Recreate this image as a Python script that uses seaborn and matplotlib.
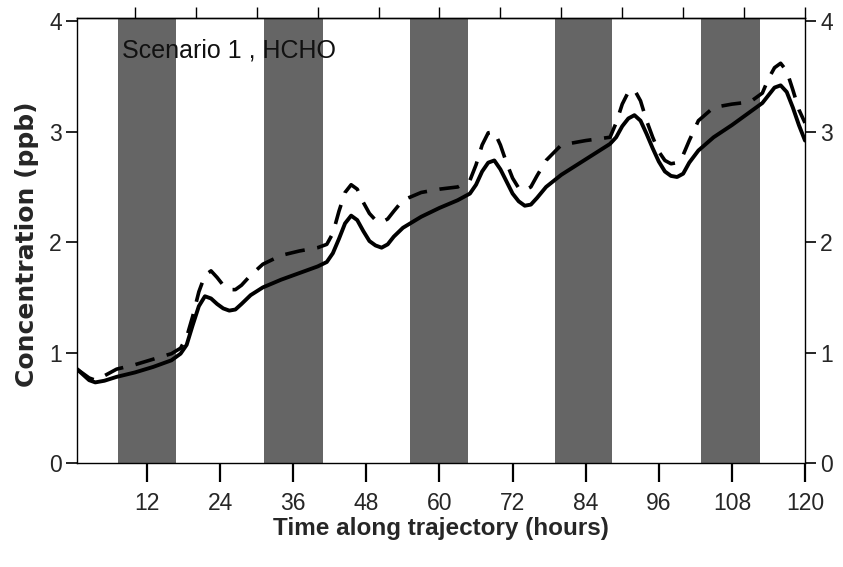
import numpy as np
import pandas as pd
import matplotlib.pyplot as plt
import seaborn as sns

# --------------------------------------------------------------
# Data
# --------------------------------------------------------------

hours = [0.5, 1.5, 2.5, 3.5, 5, 7, 10, 13, 16, 17.5, 18.5, 19.5, 20.5, 21.5,
         22.5, 23.5, 24.5, 25.5, 26.5, 27.5, 29, 31, 34, 37, 40, 41.5, 42.5,
         43.5, 44.5, 45.5, 46.5, 47.5, 48.5, 49.5, 50.5, 51.5, 52.5, 54, 57,
         60, 63, 65, 66, 67, 68, 69, 70, 71, 72, 73, 74, 75, 76, 77.5, 80,
         84, 88, 89, 90, 91, 92, 93, 94, 95, 96, 97, 98, 99, 100, 101, 102.5,
         105, 108, 111, 113, 114, 115, 116, 117, 118, 119, 120]

solid = [0.85, 0.80, 0.75, 0.73, 0.745, 0.78, 0.82, 0.87, 0.93, 0.99, 1.07,
         1.25, 1.42, 1.51, 1.49, 1.44, 1.40, 1.38, 1.39, 1.44, 1.52, 1.59,
         1.66, 1.72, 1.78, 1.82, 1.90, 2.03, 2.17, 2.24, 2.20, 2.10, 2.01,
         1.97, 1.95, 1.98, 2.05, 2.13, 2.23, 2.31, 2.38, 2.44, 2.52, 2.64,
         2.72, 2.74, 2.66, 2.55, 2.44, 2.37, 2.33, 2.34, 2.40, 2.50, 2.61,
         2.75, 2.89, 2.95, 3.05, 3.12, 3.15, 3.10, 2.98, 2.85, 2.73, 2.64,
         2.60, 2.59, 2.62, 2.72, 2.83, 2.95, 3.06, 3.18, 3.26, 3.33, 3.40,
         3.42, 3.36, 3.22, 3.06, 2.92]

dashed = [0.85, 0.81, 0.77, 0.75, 0.79, 0.85, 0.89, 0.94, 0.99, 1.04, 1.14,
          1.33, 1.55, 1.70, 1.74, 1.68, 1.61, 1.57, 1.57, 1.61, 1.70, 1.80,
          1.88, 1.92, 1.95, 1.98, 2.08, 2.28, 2.45, 2.52, 2.48, 2.36, 2.26,
          2.20, 2.18, 2.21, 2.28, 2.38, 2.45, 2.48, 2.50, 2.56, 2.70, 2.88,
          2.99, 3.00, 2.88, 2.72, 2.58, 2.49, 2.47, 2.50, 2.60, 2.74, 2.88,
          2.92, 2.95, 3.08, 3.25, 3.36, 3.38, 3.28, 3.10, 2.95, 2.82, 2.74,
          2.71, 2.72, 2.79, 2.92, 3.10, 3.22, 3.25, 3.27, 3.35, 3.48, 3.58,
          3.62, 3.55, 3.38, 3.20, 3.08]

# night-time periods (shaded)
night_start = [7.2, 31.2, 55.2, 79.0, 103.0]
night_end = [16.8, 40.8, 64.6, 88.4, 112.6]

x_ticks = [12, 24, 36, 48, 60, 72, 84, 96, 108, 120]
top_ticks = [10, 20, 30, 40, 50, 60, 70, 80, 90, 100, 110, 120]
y_ticks = [0, 1, 2, 3, 4]

df = pd.DataFrame({"hours": hours, "solid": solid, "dashed": dashed})

# --------------------------------------------------------------
# Plot
# --------------------------------------------------------------

sns.set_theme(style="ticks")
plt.rcParams["font.family"] = ["Liberation Sans", "DejaVu Sans"]

fig = plt.figure(figsize=(8.43, 5.67), dpi=100)
ax = fig.add_axes([77 / 843, 104 / 567, 728 / 843, 445 / 567])

for s, e in zip(night_start, night_end):
    ax.axvspan(s, e, color="#656565", lw=0, zorder=0)

sns.lineplot(data=df, x="hours", y="solid", ax=ax, color="black", lw=2.8,
             solid_joinstyle="round", solid_capstyle="round", zorder=3)
sns.lineplot(data=df, x="hours", y="dashed", ax=ax, color="black", lw=2.6,
             linestyle=(0, (5.5, 3.5)), zorder=3)

ax.set_xlim(0.5, 120)
ax.set_ylim(0, 4.03)

ax.set_xticks(x_ticks)
ax.set_yticks(y_ticks)
ax.tick_params(axis="x", direction="out", length=14, width=1.6, pad=7,
               labelsize=16.5, color="black")
ax.tick_params(axis="y", direction="out", length=8, width=1.2, pad=3,
               labelsize=16.5, right=True, labelright=True, color="black")

top = ax.secondary_xaxis("top")
top.set_xticks(top_ticks)
top.tick_params(direction="out", length=8, width=1.0, labeltop=False, color="black")
top.spines["top"].set_linewidth(1.0)

for sp in ax.spines.values():
    sp.set_linewidth(1.0)
    sp.set_color("black")

ax.set_xlabel("Time along trajectory (hours)", fontsize=17.5, fontweight="bold")
ax.xaxis.set_label_coords(0.5, -0.121)
ax.set_ylabel("Concentration (ppb)", fontsize=18, fontweight="bold",
              family=["DejaVu Sans"])
ax.yaxis.set_label_coords(-0.052, 0.492)

ax.text(0.062, 0.926, "Scenario 1 , HCHO", transform=ax.transAxes,
        fontsize=18, va="center", ha="left", color="#111111")

fig.savefig("out.png", dpi=100)
